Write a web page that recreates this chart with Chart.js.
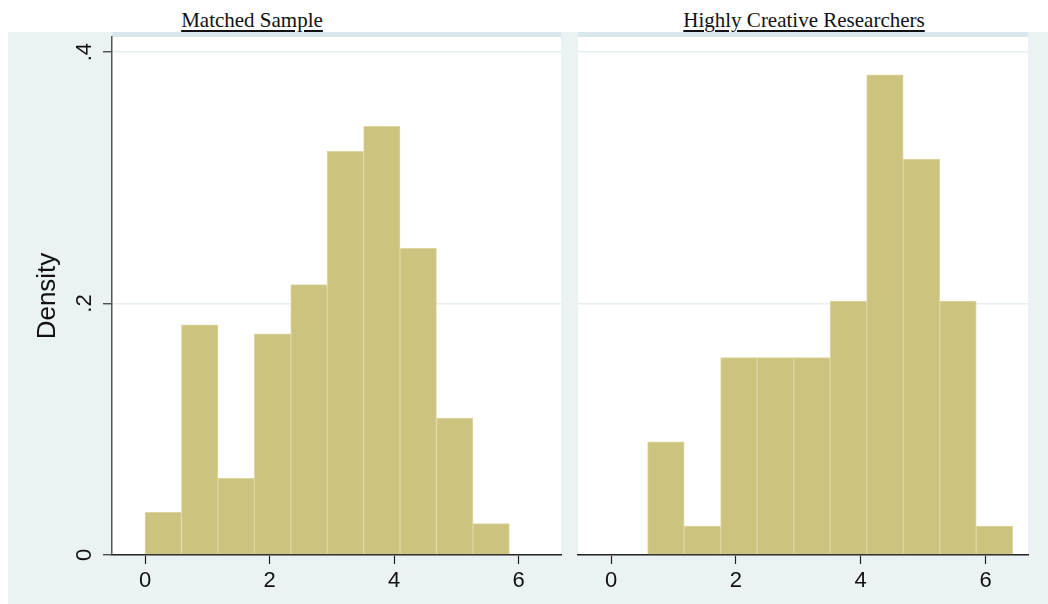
<!DOCTYPE html>
<html>
<head>
<meta charset="utf-8">
<script src="https://cdn.jsdelivr.net/npm/chart.js@4.4.1/dist/chart.umd.min.js"></script>
<style>
  html, body { margin: 0; padding: 0; background: #fff; }
  #page { position: relative; width: 1048px; height: 604px; overflow: hidden; }
  #bg { position: absolute; left: 8px; top: 32px; width: 1040px; height: 572px; background: #EAF2F3; }
  .title {
    position: absolute; top: 10px; transform: translateX(-50%);
    font-family: "Liberation Serif", "Times New Roman", serif; font-size: 21px; line-height: 21px;
    color: #111; text-decoration: underline; text-underline-offset: 3px; white-space: nowrap;
  }
  .panel { position: absolute; top: 0; height: 604px; }
</style>
</head>
<body>
<div id="page">
  <div id="bg"></div>
  <div class="title" style="left:252px">Matched Sample</div>
  <div class="title" style="left:804px">Highly Creative Researchers</div>
  <div class="panel" style="left:0;width:570px"><canvas id="chart-matched"></canvas></div>
  <div class="panel" style="left:570px;width:478px"><canvas id="chart-creative"></canvas></div>
</div>
<script>
// bin midpoints (bin width ~0.585) and densities
const MATCHED_BINS = [0.293, 0.878, 1.463, 2.048, 2.633, 3.218, 3.803, 4.388, 4.973, 5.558];
const MATCHED_DENSITY = [0.034, 0.183, 0.061, 0.176, 0.215, 0.321, 0.341, 0.244, 0.109, 0.025];

const CREATIVE_BINS = [0.878, 1.463, 2.048, 2.633, 3.218, 3.803, 4.388, 4.973, 5.558, 6.143];
const CREATIVE_DENSITY = [0.090, 0.023, 0.157, 0.157, 0.157, 0.202, 0.382, 0.315, 0.202, 0.023];

const X_TICKS = [0, 2, 4, 6];
const Y_TICKS = [0, 0.2, 0.4];

const BAR_FILL = "#CBC37E";
const BAR_EDGE = "#DDD7A2";
const GRID = "#E6EEF1";
const STRIP = "#D9E6EB";
const SANS = "'Liberation Sans', Arial, sans-serif";

const plotBg = {
  id: "plotBg",
  beforeDraw(chart) {
    const { ctx, chartArea: a } = chart;
    ctx.save();
    ctx.fillStyle = "#fff";
    ctx.fillRect(a.left, a.top, a.right - a.left, a.bottom - a.top);
    ctx.fillStyle = STRIP;
    ctx.fillRect(a.left, a.top - 5, a.right - a.left, 5);
    ctx.restore();
  },
};

function yLabel(v) {
  return v === 0 ? "0" : String(v).replace("0.", ".");
}

function makePanel(el, bins, dens, withAxis) {
  const points = bins.map((x, i) => ({ x, y: dens[i] }));
  return new Chart(el, {
    type: "bar",
    data: {
      datasets: [{
        data: points,
        backgroundColor: BAR_FILL,
        borderColor: BAR_EDGE,
        borderWidth: 1,
        barPercentage: 1,
        categoryPercentage: 1,
      }],
    },
    options: {
      responsive: true,
      maintainAspectRatio: false,
      animation: false,
      layout: { padding: withAxis ? { left: 0, top: 37, right: 9, bottom: 0 } : { left: 8, top: 37, right: 20, bottom: 0 } },
      plugins: { legend: { display: false }, tooltip: { enabled: false } },
      scales: {
        x: {
          type: "linear",
          offset: false,
          min: -0.53,
          max: 6.68,
          afterBuildTicks: (s) => { s.ticks = X_TICKS.map((v) => ({ value: v })); },
          afterFit: (s) => { s.height = 49; },
          grid: { offset: false, drawOnChartArea: false, tickLength: 9, tickColor: "#222", tickWidth: 1.2 },
          border: { color: "#222", width: 1.5 },
          ticks: { color: "#111", font: { family: SANS, size: 22 }, padding: 4, maxRotation: 0 },
        },
        y: {
          min: 0,
          max: 0.412,
          afterBuildTicks: (s) => { s.ticks = Y_TICKS.map((v) => ({ value: v })); },
          afterFit: (s) => { s.width = withAxis ? 112 : 0; },
          grid: { color: GRID, lineWidth: 1.5, drawTicks: withAxis, tickLength: 9, tickColor: "#333", tickWidth: 1.2 },
          border: { display: withAxis, color: "#555", width: 1.5 },
          ticks: {
            display: withAxis,
            color: "#111",
            font: { family: SANS, size: 22 },
            minRotation: 90,
            maxRotation: 90,
            crossAlign: "center",
            padding: 9,
            callback: yLabel,
          },
          title: {
            display: withAxis,
            text: "Density",
            color: "#111",
            font: { family: SANS, size: 26 },
            padding: { top: 32, bottom: 0 },
          },
        },
      },
    },
    plugins: [plotBg],
  });
}

makePanel(document.getElementById("chart-matched"), MATCHED_BINS, MATCHED_DENSITY, true);
makePanel(document.getElementById("chart-creative"), CREATIVE_BINS, CREATIVE_DENSITY, false);
</script>
</body>
</html>
